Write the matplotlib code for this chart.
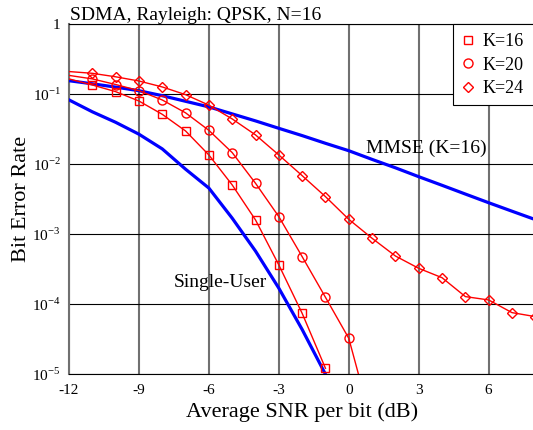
#!/usr/bin/env python3
"""BER curves for SDMA over Rayleigh fading, QPSK with N=16."""

import matplotlib

matplotlib.use("Agg")

import matplotlib.pyplot as plt
import numpy as np
from matplotlib.lines import Line2D
from matplotlib.patches import Rectangle

plt.rcParams["font.family"] = ["Liberation Serif", "DejaVu Serif"]
plt.rcParams["mathtext.fontset"] = "custom"
plt.rcParams["mathtext.rm"] = "Liberation Serif"
plt.rcParams["axes.unicode_minus"] = False

# SNR grid (dB) and log10(BER)
snr_k16 = [-12, -11, -10, -9, -8, -7, -6, -5, -4, -3, -2, -1]
ber_k16 = [-0.78, -0.867, -0.962, -1.096, -1.286, -1.524, -1.867, -2.295,
           -2.795, -3.438, -4.129, -4.914]

snr_k20 = [-12, -11, -10, -9, -8, -7, -6, -5, -4, -3, -2, -1, 0, 1]
ber_k20 = [-0.73, -0.78, -0.86, -0.948, -1.081, -1.265, -1.515, -1.833,
           -2.271, -2.748, -3.319, -3.9, -4.486, -5.72]

snr_k24 = [-12, -11, -10, -9, -8, -7, -6, -5, -4, -3, -2, -1, 0, 1, 2, 3, 4,
           5, 6, 7, 8]
ber_k24 = [-0.675, -0.70, -0.75, -0.81, -0.895, -1.005, -1.155, -1.352, -1.58,
           -1.867, -2.162, -2.462, -2.786, -3.057, -3.31, -3.486, -3.62,
           -3.89, -3.938, -4.119, -4.176]

snr_single = [-12, -11, -10, -9, -8, -7, -6, -5, -4, -3, -2, -1]
ber_single = [-1.08, -1.25, -1.40, -1.57, -1.78, -2.07, -2.34, -2.77, -3.24,
              -3.77, -4.36, -5.0]

snr_mmse = [-12, -11, -10, -9, -8, -7, -6, -5, -4, -3, -2, -1, 0, 1, 2, 3, 4,
            5, 6, 7, 8]
ber_mmse = [-0.806, -0.85, -0.897, -0.949, -1.02, -1.10, -1.18, -1.28, -1.38,
            -1.486, -1.59, -1.70, -1.806, -1.93, -2.05, -2.177, -2.30, -2.425,
            -2.549, -2.67, -2.79]

x_ticks = [-12, -9, -6, -3, 0, 3, 6]
y_ticks = [1e-5, 1e-4, 1e-3, 1e-2, 1e-1, 1]
y_labels = ["10$^{-5}$", "10$^{-4}$", "10$^{-3}$", "10$^{-2}$", "10$^{-1}$", "1"]

W, H = 533, 430
fig = plt.figure(figsize=(W / 100, H / 100), dpi=100)
ax = fig.add_axes([69 / W, (H - 374.3) / H, (535.3 - 69) / W, 350 / H])

red = "#ff0000"
blue = "#0000ff"
mk = dict(markerfacecolor="none", markeredgecolor=red, markeredgewidth=1.0,
          markevery=slice(1, None))

ax.plot(snr_single, 10 ** np.array(ber_single), color=blue, lw=2.3, zorder=3)
ax.plot(snr_mmse, 10 ** np.array(ber_mmse), color=blue, lw=2.3, zorder=3)
ax.plot(snr_k16, 10 ** np.array(ber_k16), color=red, lw=1.0, marker="s",
        markersize=6, zorder=4, **mk)
ax.plot(snr_k20, 10 ** np.array(ber_k20), color=red, lw=1.0, marker="o",
        markersize=6.5, zorder=4, **mk)
ax.plot(snr_k24, 10 ** np.array(ber_k24), color=red, lw=1.0, marker="D",
        markersize=4.8, zorder=4, **mk)

ax.set_yscale("log")
ax.set_xlim(-12, 8)
ax.set_ylim(1e-5, 1)
ax.set_xticks(x_ticks)
ax.set_yticks(y_ticks)
ax.set_yticklabels(y_labels)
ax.minorticks_off()
ax.tick_params(length=0, labelsize=11)
ax.tick_params(axis="x", pad=7)
ax.tick_params(axis="y", pad=6)

ax.set_axisbelow(True)
ax.grid(axis="x", color="#707070", lw=1.5)
ax.grid(axis="y", color="black", lw=0.8)
ax.spines["right"].set_visible(False)
ax.spines["left"].set_color("#707070")
ax.spines["left"].set_linewidth(1.5)
for side in ("top", "bottom"):
    ax.spines[side].set_linewidth(0.8)

ax.set_xlabel("Average SNR per bit (dB)", fontsize=16, labelpad=4)
ax.set_ylabel("Bit Error Rate", fontsize=16, labelpad=1)

ax.text(-7.5, 10 ** -3.749, "Single-User", fontsize=14, va="baseline")
ax.text(0.74, 10 ** -1.834, "MMSE (K=16)", fontsize=14, va="baseline")

fig.text(70 / W, 1 - 20 / H, "SDMA, Rayleigh: QPSK, N=16", fontsize=14,
         va="baseline")

# legend box is opaque and runs off the right edge
fig.patches.append(Rectangle((453 / W, 1 - 105 / H), 100 / W, 81 / H,
                             transform=fig.transFigure, facecolor="white",
                             edgecolor="black", lw=0.8, zorder=5))
handles = [
    Line2D([], [], ls="none", marker="s", markersize=6, mfc="none", mec=red),
    Line2D([], [], ls="none", marker="o", markersize=6.5, mfc="none", mec=red),
    Line2D([], [], ls="none", marker="D", markersize=4.8, mfc="none", mec=red),
]
leg = fig.legend(handles, ["K=16", "K=20", "K=24"], loc="upper left",
                 bbox_to_anchor=(459 / W, 1 - 33 / H), frameon=False,
                 fontsize=13, handlelength=1.0, handletextpad=0.28,
                 labelspacing=0.36, borderpad=0, borderaxespad=0)
leg.set_zorder(6)

fig.savefig("out.png", dpi=100)
